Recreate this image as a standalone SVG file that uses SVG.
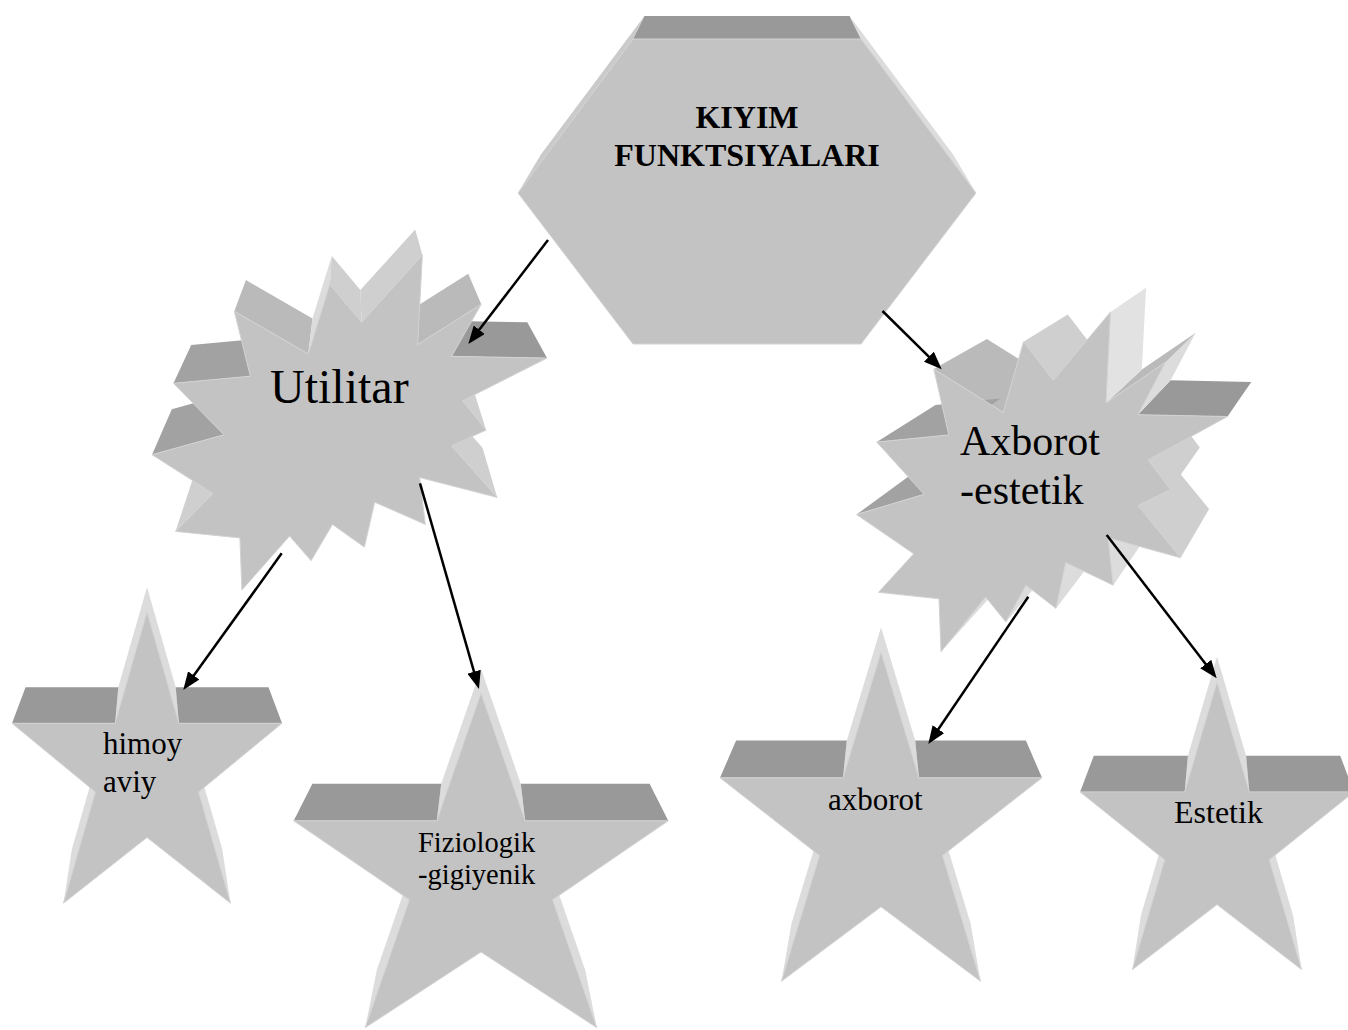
<svg xmlns="http://www.w3.org/2000/svg" width="1348" height="1030" viewBox="0 0 1348 1030">
<style>
.face{fill:#c3c3c3;stroke:#d3d3d3;stroke-width:1;stroke-linejoin:round}
.dk{fill:#999999}
.dk2{fill:#a2a2a2}
.md{fill:#bababa}
.lm{fill:#cfcfcf}
.sf{fill:#cacaca}
.lt{fill:#dcdcdc}
.vl{fill:#e2e2e2}
text{font-family:"Liberation Serif","Times New Roman",serif;fill:#000}
.link{stroke:#000;stroke-width:2.5;fill:none;marker-end:url(#arrow)}
</style>
<defs>
<marker id="arrow" markerUnits="userSpaceOnUse" markerWidth="18" markerHeight="14" refX="8" refY="7" orient="auto">
<path d="M0,0 L18,7 L0,14 z" fill="#000"/>
</marker>
</defs>
<rect width="1348" height="1030" fill="#fff"/>

<!-- extruded hexagon: root node -->
<g id="node-root">
<polygon class="dk" points="644.4,16 849.6,16 861,39 633,39"/>
<polygon class="lt" points="849.6,16 953.1,154.6 976,193 861,39"/>
<polygon class="sf" points="644.4,16 633,39 518,193 540.9,154.6"/>
<polygon class="face" points="633,39 861,39 976,193 861,344 633,344 518,193"/>
<text x="747" y="128" font-size="32" font-weight="bold" text-anchor="middle">KIYIM</text>
<text x="747" y="166" font-size="32" font-weight="bold" text-anchor="middle">FUNKTSIYALARI</text>
</g>

<!-- extruded burst: Utilitar -->
<g id="node-utilitar">
<polygon class="md" points="308.3,354 234.3,311.2 245.9,280.1 312.5,318.6"/>
<polygon class="dk2" points="250.3,376.2 173.5,383.3 191.2,345 260.3,338.6"/>
<polygon class="dk2" points="223.9,434.8 152,454.7 171.8,409.2 236.5,391.3"/>
<polygon class="lm" points="212.9,493.4 175.5,531.4 193,478.3 226.6,444.1"/>
<polygon class="lt" points="329.8,284.3 308.3,354 312.5,318.6 331.8,255.9"/>
<polygon class="lm" points="361.6,322.3 329.8,284.3 331.8,255.9 360.4,290.1"/>
<polygon class="lm" points="422.4,255 361.6,322.3 360.4,290.1 415.2,229.5"/>
<polygon class="dk" points="547,358.1 451.6,356.3 441.4,320.7 527.3,322.3"/>
<polygon class="md" points="481.3,304.2 417.6,344.6 410.8,310.1 468.2,273.8"/>
<polygon class="lm" points="486.1,430.1 462.6,400.8 451.3,360.7 472.5,387.1"/>
<polygon class="lm" points="497.2,497.4 451.6,445.9 441.4,401.3 482.5,447.7"/>
<polygon class="face" points="361.6,322.3 329.8,284.3 308.3,354 234.3,311.2 250.3,376.2 173.5,383.3 223.9,434.8 152,454.7 212.9,493.4 175.5,531.4 239.9,537.9 241.9,590 289.6,536.1 311.1,560.7 332.5,524.4 364.4,547.2 374.7,502.2 425.3,524.4 419.7,477.5 497.2,497.4 451.6,445.9 486.1,430.1 462.6,400.8 547,358.1 451.6,356.3 481.3,304.2 417.6,344.6 422.4,255"/>
<text x="270" y="403" font-size="48">Utilitar</text>
</g>

<!-- extruded burst: Axborot-estetik -->
<g id="node-axborot-estetik">
<polygon class="md" points="1003.3,412.4 933.8,369 986.9,339.1 1049.5,378.2"/>
<polygon class="lm" points="1053.4,380.3 1023.5,341.7 1067.7,314.5 1094.6,349.3"/>
<polygon class="dk2" points="948.8,434.9 876.7,442.1 935.5,404.9 1000.4,398.4"/>
<polygon class="dk2" points="924.1,494.3 856.5,514.5 917.4,470.1 978.2,451.9"/>
<polygon class="lt" points="941,651.7 985.7,597.1 1033.6,544.4 993.4,593.5"/>
<polygon class="lt" points="1005.9,622 1026,585.2 1069.9,533.7 1051.8,566.8"/>
<polygon class="lt" points="1056,608.4 1065.7,562.6 1105.6,513.3 1096.9,554.6"/>
<polygon class="lt" points="1113.2,585.2 1108,537.7 1143.7,490.9 1148.4,533.7"/>
<polygon class="lm" points="1180.7,557.8 1137.9,505.6 1170.6,462 1209.1,509"/>
<polygon class="lm" points="1170.3,489.6 1148.3,459.9 1180,420.9 1199.8,447.6"/>
<polygon class="dk" points="1227.5,416.5 1137.9,414.7 1170.6,380.2 1251.3,381.9"/>
<polygon class="lt" points="1137.9,414.7 1165.8,361.9 1195.7,332.7 1170.6,380.2"/>
<polygon class="md" points="1165.8,361.9 1106,402.9 1141.9,369.6 1195.7,332.7"/>
<polygon class="vl" points="1106,402.9 1110.5,312 1146,287.8 1141.9,369.6"/>
<polygon class="face" points="1053.4,380.3 1023.5,341.7 1003.3,412.4 933.8,369 948.8,434.9 876.7,442.1 924.1,494.3 856.5,514.5 913.7,553.8 878.5,592.3 939,598.8 941,651.7 985.7,597.1 1005.9,622 1026,585.2 1056,608.4 1065.7,562.6 1113.2,585.2 1108,537.7 1180.7,557.8 1137.9,505.6 1170.3,489.6 1148.3,459.9 1227.5,416.5 1137.9,414.7 1165.8,361.9 1106,402.9 1110.5,312"/>
<text x="960" y="455" font-size="42">Axborot</text>
<text x="960" y="504" font-size="42">-estetik</text>
</g>

<!-- extruded star: himoyaviy -->
<g id="node-himoyaviy">
<polygon class="lt" points="115.1,723.3 147,612 147,587 118.3,687.2"/>
<polygon class="lt" points="147,612 178.9,723.3 175.7,687.2 147,587"/>
<polygon class="dk" points="178.9,723.3 282,723.3 268.5,687.2 175.7,687.2"/>
<polygon class="dk" points="12,723.3 115.1,723.3 118.3,687.2 25.5,687.2"/>
<polygon class="lt" points="198.6,792 230.5,903.2 222.2,849.1 193.4,749"/>
<polygon class="lt" points="63.5,903.2 95.4,792 100.6,749 71.9,849.1"/>
<polygon class="face" points="147,612 178.9,723.3 282,723.3 198.6,792 230.5,903.2 147,837.4 63.5,903.2 95.4,792 12,723.3 115.1,723.3"/>
<text x="103" y="754" font-size="31">himoy</text>
<text x="103" y="792" font-size="31">aviy</text>
</g>

<!-- extruded star: Fiziologik-gigiyenik -->
<g id="node-fiziologik">
<polygon class="lt" points="436.8,820.8 481,693 481,668.8 441.2,783.8"/>
<polygon class="lt" points="481,693 525.2,820.8 520.8,783.8 481,668.8"/>
<polygon class="dk" points="525.2,820.8 668.3,820.8 649.6,783.8 520.8,783.8"/>
<polygon class="dk" points="293.7,820.8 436.8,820.8 441.2,783.8 312.4,783.8"/>
<polygon class="lt" points="552.6,899.8 596.8,1027.7 585.2,970 545.4,854.9"/>
<polygon class="lt" points="365.2,1027.7 409.4,899.8 416.6,854.9 376.8,970"/>
<polygon class="face" points="481,693 525.2,820.8 668.3,820.8 552.6,899.8 596.8,1027.7 481,952 365.2,1027.7 409.4,899.8 293.7,820.8 436.8,820.8"/>
<text x="418" y="852" font-size="28.5">Fiziologik</text>
<text x="418" y="884" font-size="28.5">-gigiyenik</text>
</g>

<!-- extruded star: axborot -->
<g id="node-axborot">
<polygon class="lt" points="843,777.8 881,652 881,627.3 846.8,740.5"/>
<polygon class="lt" points="881,652 919,777.8 915.2,740.5 881,627.3"/>
<polygon class="dk" points="919,777.8 1042,777.8 1025.9,740.5 915.2,740.5"/>
<polygon class="dk" points="720,777.8 843,777.8 846.8,740.5 736.1,740.5"/>
<polygon class="lt" points="942.5,855.5 980.5,981.2 970.6,923.6 936.4,810.5"/>
<polygon class="lt" points="781.5,981.2 819.5,855.5 825.7,810.5 791.5,923.6"/>
<polygon class="face" points="881,652 919,777.8 1042,777.8 942.5,855.5 980.5,981.2 881,906.8 781.5,981.2 819.5,855.5 720,777.8 843,777.8"/>
<text x="828" y="810" font-size="31">axborot</text>
</g>

<!-- extruded star: Estetik -->
<g id="node-estetik">
<polygon class="lt" points="1184.7,791.9 1217,682 1217,656.8 1187.9,755.7"/>
<polygon class="lt" points="1217,682 1249.3,791.9 1246.1,755.7 1217,656.8"/>
<polygon class="dk" points="1249.3,791.9 1353.9,791.9 1340.2,755.7 1246.1,755.7"/>
<polygon class="dk" points="1080.1,791.9 1184.7,791.9 1187.9,755.7 1093.8,755.7"/>
<polygon class="lt" points="1269.3,859.8 1301.6,969.6 1293.1,915.6 1264.1,816.8"/>
<polygon class="lt" points="1132.4,969.6 1164.7,859.8 1169.9,816.8 1140.9,915.6"/>
<polygon class="face" points="1217,682 1249.3,791.9 1353.9,791.9 1269.3,859.8 1301.6,969.6 1217,904.6 1132.4,969.6 1164.7,859.8 1080.1,791.9 1184.7,791.9"/>
<text x="1174" y="823" font-size="32">Estetik</text>
</g>

<!-- connectors -->
<g id="connectors">
<line class="link" x1="548" y1="240" x2="474.4" y2="336.1"/>
<line class="link" x1="882.5" y1="311" x2="934.6" y2="362.3"/>
<line class="link" x1="281.7" y1="553.3" x2="189.1" y2="681.9"/>
<line class="link" x1="420" y1="483.3" x2="476.2" y2="679.4"/>
<line class="link" x1="1028.3" y1="596.7" x2="933.9" y2="735.7"/>
<line class="link" x1="1106.7" y1="535" x2="1210.6" y2="670.4"/>
</g>
</svg>
